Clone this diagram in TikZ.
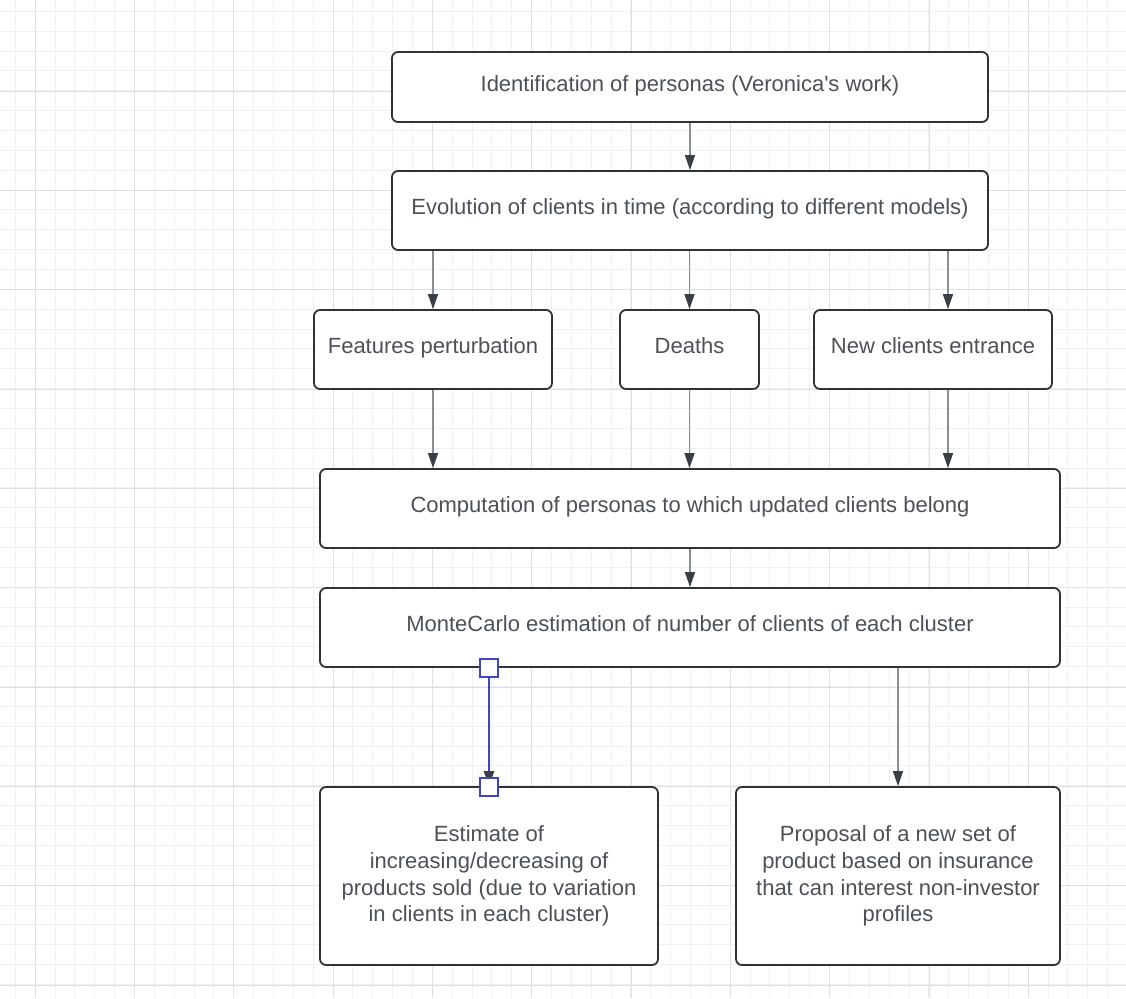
\documentclass[tikz,border=0pt]{standalone}
\usepackage{fontspec}
\setmainfont{Liberation Sans}
\usetikzlibrary{arrows.meta}
\definecolor{gridminor}{HTML}{F0F0F0}
\definecolor{gridmajor}{HTML}{E0E0E0}
\definecolor{boxline}{HTML}{2F3338}
\definecolor{txt}{HTML}{4C5158}
\definecolor{connline}{HTML}{8A8D92}
\definecolor{tipdark}{HTML}{3A3F47}
\definecolor{selblue}{HTML}{3D45C2}
\tikzset{
  box/.style={draw=boxline, line width=1.8pt, rounded corners=6pt, fill=white,
    text=txt, font=\fontsize{22}{26.7}\selectfont, align=center, inner sep=0pt},
  oneline/.style={text height=15pt, text depth=6.2pt},
  conn/.style={draw=connline, line width=1.4pt, -{Triangle[length=15pt,width=10pt,color=tipdark]}},
  selconn/.style={draw=selblue, line width=2.6pt, -{Triangle[length=15pt,width=10pt,color=tipdark]}},
  handle/.style={draw=selblue, line width=2pt, fill=white, minimum size=18pt, inner sep=0pt},
  gminor/.style={draw=gridminor, line width=1pt},
  gmajor/.style={draw=gridmajor, line width=1pt},
}
\begin{document}
\begin{tikzpicture}[x=1pt,y=-1pt]
\useasboundingbox (0,0) rectangle (1126,998);
\fill[white] (0,0) rectangle (1126,998);
% grid
\foreach \i in {0,...,56} {
  \pgfmathsetmacro\xx{15.3+19.86*\i}
  \draw[gminor] (\xx,0) -- (\xx,998);
}
\foreach \j in {0,...,49} {
  \pgfmathsetmacro\yy{11.3+19.86*\j}
  \draw[gminor] (0,\yy) -- (1126,\yy);
}
\foreach \i in {0,...,11} {
  \pgfmathsetmacro\xx{35.3+99.3*\i}
  \draw[gmajor] (\xx,0) -- (\xx,998);
}
\foreach \j in {0,...,9} {
  \pgfmathsetmacro\yy{91.3+99.3*\j}
  \draw[gmajor] (0,\yy) -- (1126,\yy);
}
% boxes
\node[box, oneline, minimum width=596pt, minimum height=70pt] (n1) at (690,87) {Identification of personas (Veronica\textquotesingle s work)};
\node[box, oneline, minimum width=596pt, minimum height=79pt] (n2) at (690,210.5) {Evolution of clients in time (according to different models)};
\node[box, oneline, minimum width=238pt, minimum height=79pt] (n3) at (433,349.5) {Features perturbation};
\node[box, oneline, minimum width=139pt, minimum height=79pt] (n4) at (689.5,349.5) {Deaths};
\node[box, oneline, minimum width=238pt, minimum height=79pt] (n5) at (933,349.5) {New clients entrance};
\node[box, oneline, minimum width=740pt, minimum height=79pt] (n6) at (690,508.5) {Computation of personas to which updated clients belong};
\node[box, oneline, minimum width=740pt, minimum height=79pt] (n7) at (690,627.5) {MonteCarlo estimation of number of clients of each cluster};
\node[box, minimum width=338pt, minimum height=178pt] (n8) at (489,876) {Estimate of\\increasing/decreasing of\\products sold (due to variation\\in clients in each cluster)};
\node[box, minimum width=324pt, minimum height=178pt] (n9) at (898,876) {Proposal of a new set of\\product based on insurance\\that can interest non-investor\\profiles};
% connectors
\draw[conn] (n1.south -| n2.north) -- (n2.north);
\draw[conn] (n2.south -| n3.north) -- (n3.north);
\draw[conn] (n2.south -| n4.north) -- (n4.north);
\draw[conn] ([xshift=15pt]n5.north |- n2.south) -- ([xshift=15pt]n5.north);
\draw[conn] (n3.south) -- (n3.south |- n6.north);
\draw[conn] (n4.south) -- (n4.south |- n6.north);
\draw[conn] ([xshift=15pt]n5.south) -- ([xshift=15pt]n5.south |- n6.north);
\draw[conn] (n6.south -| n7.north) -- (n7.north);
\draw[selconn] (n7.south -| n8.north) -- (n8.north);
\draw[conn] (n7.south -| n9.north) -- (n9.north);
% selection handles
\node[handle] (h1) at (n7.south -| n8.north) {};
\node[handle] (h2) at ([yshift=-1pt]n8.north) {};
\end{tikzpicture}
\end{document}
